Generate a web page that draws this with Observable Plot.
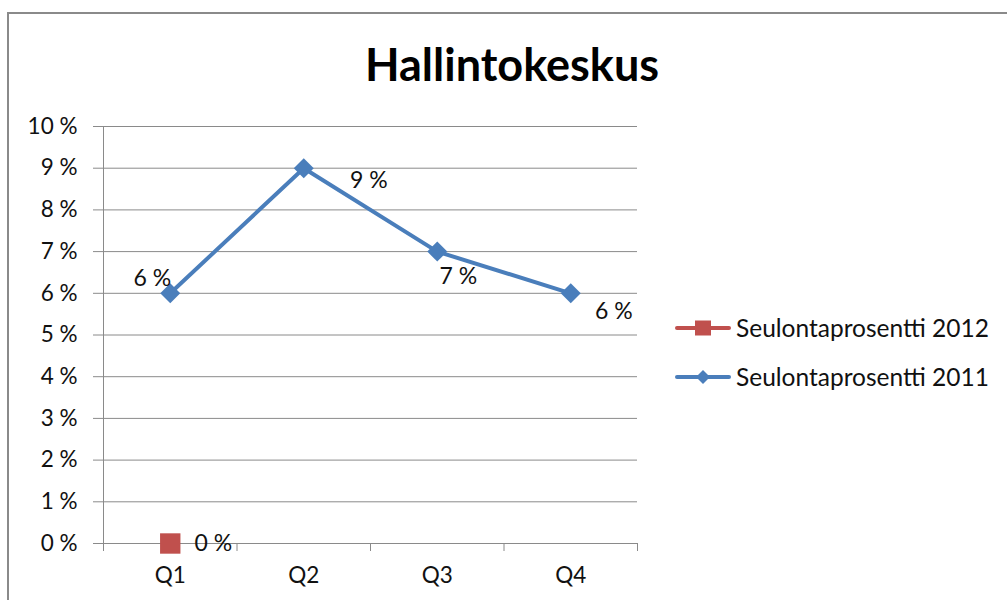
<!DOCTYPE html>
<html>
<head>
<meta charset="utf-8">
<script src="https://cdn.jsdelivr.net/npm/d3@7"></script>
<script src="https://cdn.jsdelivr.net/npm/@observablehq/plot@0.6"></script>
<style>
  html, body { margin: 0; padding: 0; background: #fff; }
  #wrap { position: relative; width: 1007px; height: 600px; overflow: hidden; font-family: Lato, "Open Sans", sans-serif; }
  #frame { position: absolute; left: 7px; top: 12px; width: 1200px; height: 800px; border: 2px solid #8a8a8a; box-sizing: border-box; }
  #title { position: absolute; left: 0; top: 38px; width: 1024px; text-align: center; font-weight: bold; font-size: 45px; line-height: 52px; color: #000; }
  #chart { position: absolute; left: 0; top: 0; }
  #legend { position: absolute; left: 675px; top: 303px; font-size: 24.5px; color: #111; }
  .item { display: flex; align-items: center; height: 49px; }
  .item svg { margin-right: 5px; }
</style>
</head>
<body>
<div id="wrap">
  <div id="frame"></div>
  <div id="chart"></div>
  <div id="title"></div>
  <div id="legend"></div>
</div>
<script>
// ---- data ----
const title = "Hallintokeskus";
const quarters = ["Q1", "Q2", "Q3", "Q4"];
const series2011Name = "Seulontaprosentti 2011";
const series2011 = [6, 9, 7, 6];
const series2012Name = "Seulontaprosentti 2012";
const series2012 = [0];
const yTicks = [0, 1, 2, 3, 4, 5, 6, 7, 8, 9, 10];

// ---- build rows ----
const rows2011 = series2011.map((v, i) => ({q: quarters[i], i, v}));
const rows2012 = series2012.map((v, i) => ({q: quarters[i], i, v}));
const boundaries = d3.range(-0.5, quarters.length, 1);

const blue = "#4a7ebb";
const red = "#c0504d";
const grid = "#8a8a8a";

function label2011(q, dx, dy) {
  return Plot.text(rows2011, {filter: d => d.q === q, x: "i", y: "v", text: d => `${d.v} %`, dx, dy, fill: "#111", textAnchor: "middle", fontSize: 23});
}

const chart = Plot.plot({
  width: 1007,
  height: 600,
  marginLeft: 103,
  marginRight: 370,
  marginTop: 126,
  marginBottom: 57,
  x: {type: "linear", domain: [-0.5, quarters.length - 0.5]},
  y: {domain: [0, 10]},
  style: {fontFamily: "Lato, 'Open Sans', sans-serif", fontSize: "22px", background: "transparent", color: "#000", overflow: "visible"},
  marks: [
    Plot.ruleY(yTicks, {stroke: grid, strokeWidth: 1}),
    Plot.ruleX([-0.5], {stroke: grid, strokeWidth: 1}),
    Plot.axisY({ticks: yTicks, tickSize: 10, tickPadding: 16, tickFormat: d => `${d} %`, stroke: grid, fill: "#111", fontSize: 22.5, label: null}),
    Plot.axisX({ticks: boundaries, tickSize: 8, tickFormat: () => "", stroke: grid, label: null}),
    Plot.axisX({ticks: quarters.map((q, i) => i), tickSize: 0, tickPadding: 24, tickFormat: i => quarters[i], fill: "#111", fontSize: 22.5, label: null}),
    Plot.line(rows2011, {x: "i", y: "v", stroke: blue, strokeWidth: 4}),
    Plot.dot(rows2011, {x: "i", y: "v", symbol: "diamond2", r: 9, fill: blue, stroke: null}),
    Plot.dot(rows2012, {x: "i", y: "v", symbol: "square", r: 11.5, fill: red, stroke: null}),
    label2011("Q1", -18, -15),
    label2011("Q2", 65, 12),
    label2011("Q3", 21, 25),
    label2011("Q4", 43, 18),
    Plot.text(rows2012, {x: "i", y: "v", text: d => `${d.v} %`, dx: 43, dy: 0, fill: "#111", textAnchor: "middle", fontSize: 23})
  ]
});
document.getElementById("chart").appendChild(chart);
document.getElementById("title").textContent = title;

// ---- legend ----
const legendItems = [
  {name: series2012Name, color: red, symbol: "square"},
  {name: series2011Name, color: blue, symbol: "diamond"}
];
const legend = d3.select("#legend");
legendItems.forEach(it => {
  const row = legend.append("div").attr("class", "item");
  const s = row.append("svg").attr("width", 56).attr("height", 20);
  s.append("line").attr("x1", 2).attr("x2", 54).attr("y1", 10).attr("y2", 10)
    .attr("stroke", it.color).attr("stroke-width", 4).attr("stroke-linecap", "round");
  if (it.symbol === "square") {
    s.append("rect").attr("x", 20).attr("y", 2.5).attr("width", 16).attr("height", 15).attr("fill", it.color);
  } else {
    s.append("path").attr("d", "M28,3 L35,10 L28,17 L21,10 Z").attr("fill", it.color);
  }
  row.append("span").text(it.name);
});
</script>
</body>
</html>
